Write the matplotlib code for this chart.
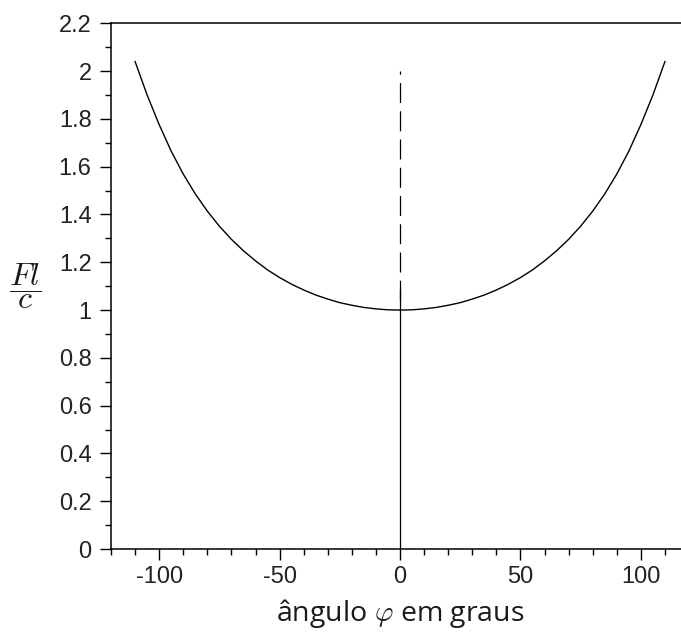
import numpy as np
import matplotlib
matplotlib.use('Agg')
import matplotlib.pyplot as plt
from matplotlib.ticker import MultipleLocator

plt.rcParams['mathtext.fontset'] = 'cm'

# angle (degrees) and Fl/c
phi = [-110, -105, -100, -95, -90, -85, -80, -75, -70, -65, -60, -55,
       -50, -45, -40, -35, -30, -25, -20, -15, -10, -5, 0,
       5, 10, 15, 20, 25, 30, 35, 40, 45, 50, 55,
       60, 65, 70, 75, 80, 85, 90, 95, 100, 105, 110]
flc = [2.04, 1.90, 1.776, 1.665, 1.569, 1.486, 1.414, 1.351, 1.296, 1.248, 1.206, 1.168,
       1.136, 1.108, 1.084, 1.063, 1.046, 1.031, 1.020, 1.011, 1.005, 1.001, 1.000,
       1.001, 1.005, 1.011, 1.020, 1.031, 1.046, 1.063, 1.084, 1.108, 1.136, 1.168,
       1.206, 1.248, 1.296, 1.351, 1.414, 1.486, 1.569, 1.665, 1.776, 1.90, 2.04]

# vertical reference at phi = 0
solid_y = [0.0, 1.084]
dash_y = [2.0, 1.0]

xt = [-100, -50, 0, 50, 100]
yt = [0, 0.2, 0.4, 0.6, 0.8, 1, 1.2, 1.4, 1.6, 1.8, 2, 2.2]

fig = plt.figure(figsize=(6.81, 6.32), dpi=100)
ax = fig.add_axes([0.163, 0.1313, 1.0118 - 0.163, 0.9631 - 0.1313])

ax.plot(phi, flc, color='black', lw=1.0)
ax.plot([0, 0], solid_y, color='black', lw=0.9)
ax.plot([0, 0], dash_y, color='black', lw=0.9, linestyle=(13.4, (16, 6.6)))

ax.set_xlim(-120, 120)
ax.set_ylim(0, 2.2)
ax.xaxis.set_minor_locator(MultipleLocator(10))
ax.yaxis.set_minor_locator(MultipleLocator(0.1))

ax.spines['right'].set_visible(False)
for s in ['left', 'top', 'bottom']:
    ax.spines[s].set_linewidth(1.1)

ax.tick_params(which='major', direction='out', length=8, width=1.0,
               top=False, right=False, labelcolor='#222222')
ax.tick_params(which='minor', direction='out', length=4.3, width=1.0,
               top=False, right=False)
ax.tick_params(axis='x', pad=4)
ax.tick_params(axis='y', pad=6)

ax.set_xticks(xt)
ax.set_xticklabels([str(v) for v in xt], family='Liberation Sans', fontsize=17)
ax.set_yticks(yt)
ax.set_yticklabels(['%g' % v for v in yt], family='Liberation Sans', fontsize=17)

ax.set_xlabel(r'ângulo $\varphi$ em graus', family='Open Sans', fontsize=20.5,
              color='#1a1a1a', labelpad=7)
ax.set_ylabel(r'$\dfrac{Fl}{c}$', fontsize=23, rotation=0, va='center', color='#1a1a1a')
ax.yaxis.set_label_coords(-0.149, 0.5)

fig.savefig('out.png', dpi=100)
